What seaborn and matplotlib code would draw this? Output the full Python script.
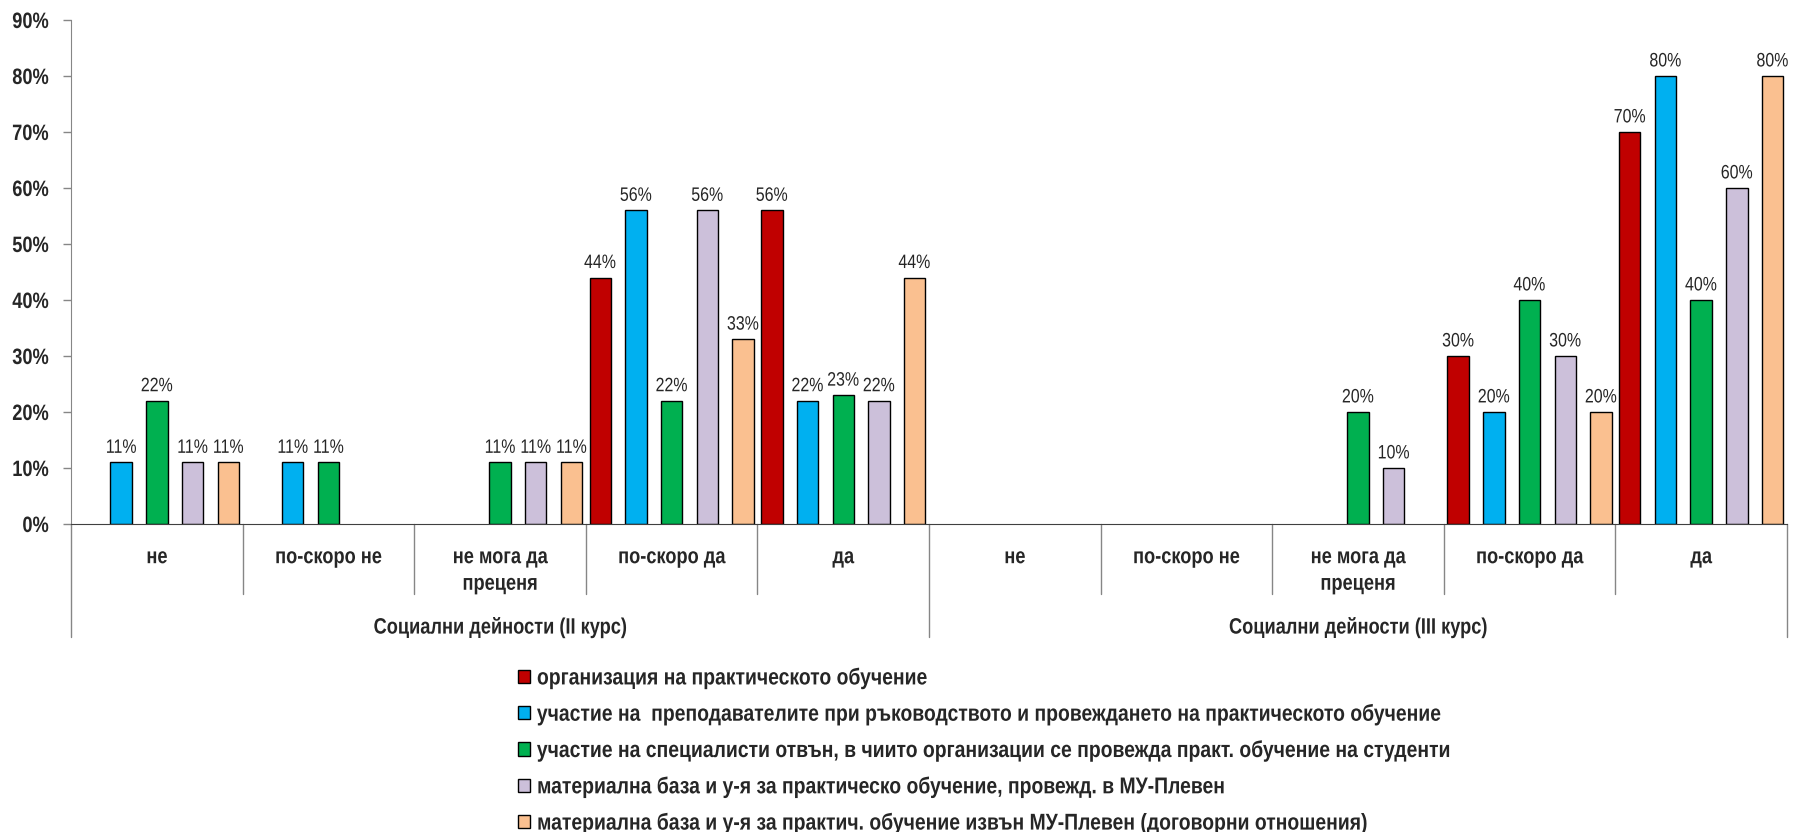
import numpy as np
import pandas as pd
import matplotlib
matplotlib.use("Agg")
import matplotlib.pyplot as plt
import matplotlib.transforms as mtransforms
from matplotlib.patheffects import AbstractPathEffect
import seaborn as sns

# ── data ──────────────────────────────────────────────────────────────────────
GROUPS = ["Социални дейности (II курс)", "Социални дейности (III курс)"]
ANSWERS = ["не", "по-скоро не", "не мога да\nпреценя", "по-скоро да", "да"]

SERIES = [
    "организация на практическото обучение",
    "участие на  преподавателите при ръководството и провеждането на практическото обучение",
    "участие на специалисти отвън, в чиито организации се провежда практ. обучение на студенти",
    "материална база и у-я за практическо обучение, провежд. в МУ-Плевен",
    "материална база и у-я за практич. обучение извън МУ-Плевен (договорни отношения)",
]
COLORS = ["#C00000", "#00B0F0", "#00B050", "#CCC0DA", "#FAC090"]

# % per category: II курс (5 answers) then III курс (5 answers); None = no bar
org         = [None, None, None, 44, 56, None, None, None, 30, 70]
teachers    = [11, 11, None, 56, 22, None, None, None, 20, 80]
specialists = [22, 11, 11, 22, 23, None, None, 20, 40, 40]
base_mu     = [11, None, 11, 56, 22, None, None, 10, 30, 60]
base_out    = [11, None, 11, 33, 44, None, None, None, 20, 80]
VALUES = [org, teachers, specialists, base_mu, base_out]


# no Arial Narrow here -> squeeze Liberation Sans glyphs horizontally
class Narrow(AbstractPathEffect):
    def __init__(self, sx=0.82, anchor=0.5):
        super().__init__()
        self.sx = sx
        self.anchor = anchor   # 0 = left, 0.5 = center, 1 = right

    def draw_path(self, renderer, gc, tpath, affine, rgbFace=None):
        ext = tpath.get_extents()
        c = ext.x0 + (ext.x1 - ext.x0) * self.anchor
        squeeze = mtransforms.Affine2D().translate(-c, 0).scale(self.sx, 1).translate(c, 0)
        renderer.draw_path(gc, tpath, squeeze + affine, rgbFace)


NARROW_C = [Narrow(anchor=0.5)]
NARROW_R = [Narrow(anchor=1.0)]
NARROW_LEG = [Narrow(sx=0.845, anchor=0.0)]

# ── long table for seaborn ────────────────────────────────────────────────────
cat_keys = [f"{g}|{a}" for g in GROUPS for a in ANSWERS]
rows = []
for name, vals in zip(SERIES, VALUES):
    for key, v in zip(cat_keys, vals):
        if v is not None:
            rows.append({"cat": key, "series": name, "value": v})
df = pd.DataFrame(rows)

# ── figure ────────────────────────────────────────────────────────────────────
sns.set_style("white")
plt.rcParams["font.family"] = ["Liberation Sans", "DejaVu Sans"]

fig = plt.figure(figsize=(17.95, 8.32), dpi=100)
ax = fig.add_axes([0.0396, 0.3702, 0.9559, 0.6058])

sns.barplot(data=df, x="cat", y="value", hue="series",
            order=cat_keys, hue_order=SERIES, palette=COLORS,
            width=1.04, gap=0.40, errorbar=None,
            edgecolor="black", linewidth=1.0, saturation=1, ax=ax)

handles, labels = ax.get_legend_handles_labels()
ax.get_legend().remove()

for cont in ax.containers:
    labs = [f"{v:.0f}%" if np.isfinite(v) and v > 0 else "" for v in cont.datavalues]
    for t in ax.bar_label(cont, labels=labs, padding=4, fontsize=14):
        t.set_path_effects(NARROW_C)

ax.set_xlim(-0.5, len(cat_keys) - 0.5)
ax.set_ylim(0, 90)
ax.set_yticks(range(0, 91, 10))
ylabs = ax.set_yticklabels([f"{t}%" for t in range(0, 91, 10)], fontsize=16, fontweight="bold")
for t in ylabs:
    t.set_path_effects(NARROW_R)
ax.set_xticks([])
ax.set_xlabel("")
ax.set_ylabel("")
ax.tick_params(axis="y", left=True, length=6, width=1, color="#868686", pad=10)

for s in ["top", "right"]:
    ax.spines[s].set_visible(False)
ax.spines["left"].set_color("#868686")
ax.spines["bottom"].set_color("#404040")

# two-level category axis
trans = mtransforms.blended_transform_factory(ax.transData, ax.transAxes)
n = len(ANSWERS)
for i, key in enumerate(cat_keys):
    ax.text(i, -0.046, key.split("|")[1], transform=trans, ha="center", va="top",
            fontsize=16, fontweight="bold", linespacing=1.35, path_effects=NARROW_C)
for gi, g in enumerate(GROUPS):
    ax.text(gi * n + (n - 1) / 2, -0.206, g, transform=trans, ha="center", va="center",
            fontsize=16, fontweight="bold", path_effects=NARROW_C)
for k in range(len(cat_keys) + 1):
    y_end = -0.224 if k % n == 0 else -0.139
    ax.plot([k - 0.5, k - 0.5], [0, y_end], transform=trans, clip_on=False,
            color="#868686", lw=1.0)

leg = fig.legend(handles, labels, loc="upper left", bbox_to_anchor=(0.2886, 0.199),
                 frameon=False, prop={"weight": "bold", "size": 16.5},
                 handlelength=0.52, handleheight=0.52, handletextpad=0.3,
                 labelspacing=0.58, borderpad=0, borderaxespad=0)
for t in leg.get_texts():
    t.set_path_effects(NARROW_LEG)

fig.savefig("out.png", dpi=100)
